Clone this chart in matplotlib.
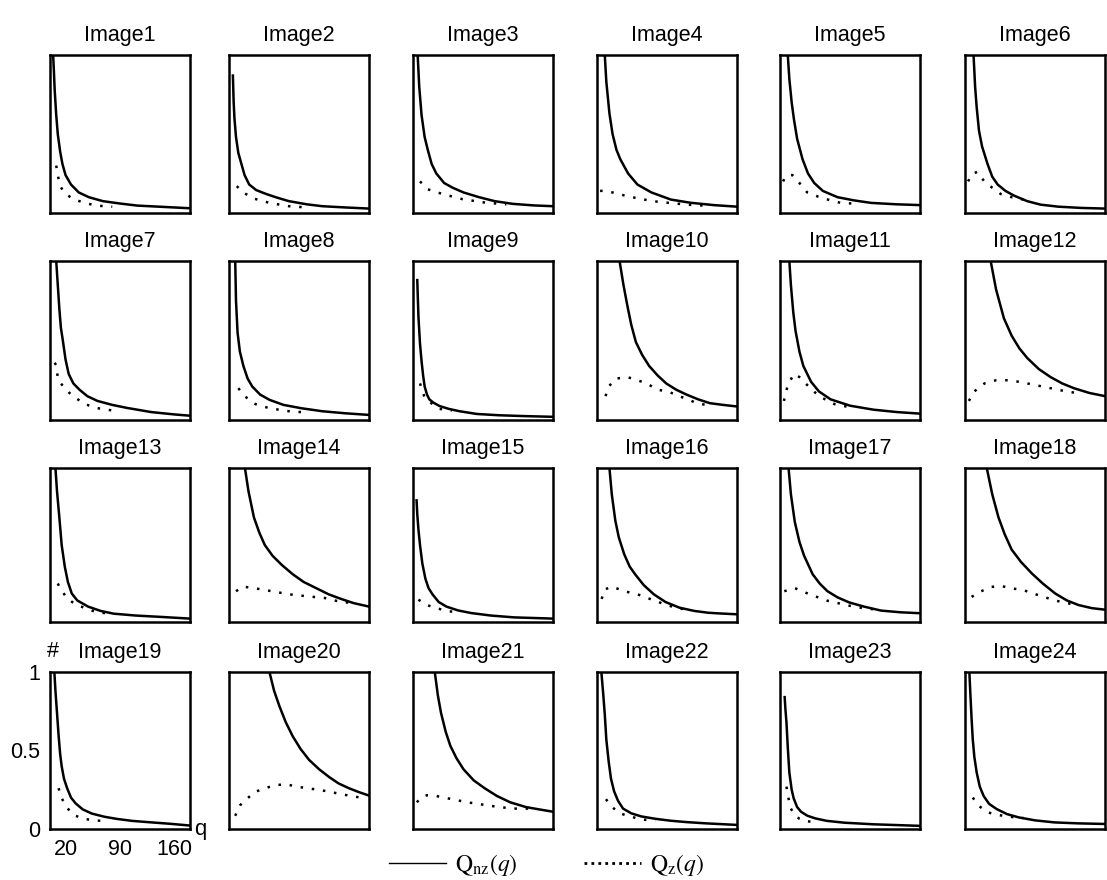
import matplotlib.pyplot as plt
from matplotlib.lines import Line2D

plt.rcParams['font.family'] = ['Liberation Sans', 'DejaVu Sans']
plt.rcParams['mathtext.fontset'] = 'stix'

titles = ['Image%d' % i for i in range(1, 25)]

# Q_nz(q): solid curves, one list per panel
nz_q = [
    [4, 5, 6, 8, 10, 13, 16, 20, 27, 37, 50, 68, 90, 112, 140, 180],
    [5, 6, 7, 9, 12, 16, 20, 26, 35, 48, 60, 77, 100, 120, 150, 180],
    [6, 8, 11, 15, 19, 24, 30, 40, 51, 65, 85, 105, 128, 155, 180],
    [10, 12, 16, 20, 25, 30, 40, 52, 70, 95, 120, 150, 180],
    [10, 12, 15, 18, 22, 29, 36, 44, 55, 74, 95, 117, 150, 180],
    [11, 13, 15, 18, 22, 29, 35, 42, 52, 63, 80, 97, 120, 150, 180],
    [8, 10, 12, 14, 16.5, 20, 24, 30, 38, 48, 61, 80, 99, 130, 160, 180],
    [8, 9, 11, 14, 18.5, 24, 30, 40, 52, 70, 93, 120, 150, 180],
    [5.5, 6, 7, 9, 11, 13, 15, 18, 21, 26, 34, 46, 60, 82, 110, 140, 180],
    [29, 34, 39, 44, 50, 58, 67, 78, 89, 102, 115, 130, 145, 162, 180],
    [12, 14, 17, 20, 25, 30, 40, 50, 65, 90, 120, 150, 180],
    [33, 40, 50, 60, 70, 80, 95, 110, 125, 140, 160, 180],
    [7, 9, 12, 15, 19, 23, 28, 35, 49, 65, 82, 110, 143, 180],
    [20.5, 25, 32, 39, 46, 56, 68, 82, 96, 112, 128, 144, 160, 180],
    [4.6, 5.5, 7, 9, 12, 16, 20, 25, 33, 43, 58, 75, 100, 130, 180],
    [16, 19, 23.5, 28, 35, 42, 49, 60, 73, 88, 106, 125, 143, 160, 180],
    [11, 14, 19, 25, 31, 42, 51, 61, 74, 89, 108, 130, 155, 180],
    [28, 35, 43, 51, 60, 72, 86, 100, 116, 131, 146, 163, 180],
    [5.6, 7, 9, 11, 13, 15, 18, 22, 27, 33, 42, 54, 70, 85, 105, 128, 155, 180],
    [52, 58, 65, 73, 82, 92, 103, 116, 129, 141, 154, 167, 180],
    [28, 32, 36, 42, 48, 56, 65, 78, 92, 108, 125, 145, 162, 180],
    [5.6, 8, 10, 12, 15, 18, 22, 27, 33.5, 44, 57, 75, 94, 115, 140, 180],
    [6, 7, 8.3, 10, 12, 15, 17.6, 22, 27, 35, 45, 60, 83, 120, 150, 180],
    [5.6, 7, 8.5, 10, 12, 15, 19, 24, 31, 40.7, 54, 69, 90, 115, 145, 180],
]
nz_y = [
    [1.0, 0.9, 0.78, 0.62, 0.5, 0.39, 0.31, 0.24, 0.18, 0.13, 0.1, 0.075, 0.06, 0.047, 0.04, 0.03],
    [0.87, 0.7, 0.6, 0.48, 0.38, 0.31, 0.24, 0.18, 0.145, 0.12, 0.1, 0.075, 0.055, 0.043, 0.035, 0.028],
    [1.0, 0.8, 0.62, 0.48, 0.4, 0.31, 0.25, 0.19, 0.16, 0.13, 0.1, 0.075, 0.058, 0.048, 0.043],
    [1.0, 0.83, 0.63, 0.5, 0.4, 0.34, 0.25, 0.18, 0.13, 0.085, 0.065, 0.05, 0.04],
    [1.0, 0.85, 0.7, 0.59, 0.47, 0.34, 0.25, 0.19, 0.14, 0.1, 0.08, 0.064, 0.055, 0.05],
    [1.0, 0.8, 0.67, 0.52, 0.42, 0.31, 0.23, 0.18, 0.14, 0.11, 0.075, 0.053, 0.04, 0.032, 0.028],
    [1.0, 0.85, 0.7, 0.58, 0.5, 0.38, 0.29, 0.23, 0.19, 0.15, 0.12, 0.095, 0.076, 0.05, 0.035, 0.027],
    [1.0, 0.75, 0.55, 0.43, 0.34, 0.26, 0.21, 0.16, 0.127, 0.095, 0.074, 0.055, 0.042, 0.032],
    [0.88, 0.8, 0.65, 0.48, 0.37, 0.28, 0.21, 0.16, 0.13, 0.11, 0.088, 0.07, 0.055, 0.038, 0.03, 0.025, 0.02],
    [1.0, 0.85, 0.72, 0.6, 0.49, 0.41, 0.34, 0.28, 0.23, 0.19, 0.16, 0.13, 0.106, 0.095, 0.085],
    [1.0, 0.85, 0.68, 0.56, 0.43, 0.34, 0.24, 0.18, 0.13, 0.09, 0.065, 0.05, 0.04],
    [1.0, 0.82, 0.64, 0.53, 0.45, 0.39, 0.32, 0.27, 0.23, 0.2, 0.17, 0.15],
    [1.0, 0.85, 0.68, 0.5, 0.36, 0.26, 0.185, 0.14, 0.1, 0.072, 0.054, 0.042, 0.033, 0.022],
    [1.0, 0.85, 0.68, 0.58, 0.5, 0.43, 0.37, 0.31, 0.26, 0.22, 0.18, 0.15, 0.123, 0.1],
    [0.79, 0.7, 0.6, 0.5, 0.38, 0.28, 0.22, 0.18, 0.13, 0.1, 0.075, 0.058, 0.042, 0.03, 0.022],
    [1.0, 0.83, 0.66, 0.55, 0.44, 0.36, 0.31, 0.24, 0.18, 0.13, 0.093, 0.072, 0.06, 0.055, 0.05],
    [1.0, 0.83, 0.65, 0.52, 0.43, 0.31, 0.25, 0.2, 0.16, 0.127, 0.1, 0.074, 0.063, 0.057],
    [1.0, 0.83, 0.68, 0.57, 0.47, 0.39, 0.315, 0.25, 0.185, 0.14, 0.11, 0.09, 0.08],
    [1.0, 0.88, 0.74, 0.6, 0.48, 0.4, 0.32, 0.26, 0.2, 0.163, 0.125, 0.098, 0.078, 0.065, 0.052, 0.043, 0.033, 0.022],
    [1.0, 0.88, 0.78, 0.68, 0.59, 0.51, 0.44, 0.38, 0.33, 0.29, 0.26, 0.235, 0.213],
    [1.0, 0.85, 0.74, 0.62, 0.53, 0.45, 0.38, 0.31, 0.26, 0.21, 0.17, 0.14, 0.125, 0.11],
    [1.0, 0.86, 0.73, 0.57, 0.43, 0.32, 0.24, 0.18, 0.13, 0.1, 0.08, 0.065, 0.053, 0.044, 0.036, 0.026],
    [0.84, 0.76, 0.68, 0.52, 0.36, 0.25, 0.195, 0.14, 0.11, 0.085, 0.068, 0.052, 0.04, 0.03, 0.025, 0.02],
    [1.0, 0.85, 0.7, 0.57, 0.46, 0.36, 0.27, 0.21, 0.16, 0.127, 0.095, 0.074, 0.055, 0.042, 0.036, 0.032],
]

# Q_z(q): dotted curves
z_q = [
    [8, 10, 13, 20, 31, 44, 59, 80],
    [10, 18, 33, 52, 77, 100],
    [9, 19, 38, 64, 94, 120],
    [4, 10, 20, 30, 50, 73, 95, 116, 140],
    [4, 6, 10, 16, 20, 25, 35, 53, 78, 100],
    [4, 6, 10, 16, 20, 25, 35, 46, 60, 75],
    [6, 8.5, 10, 14, 19, 25, 31, 45, 59, 80],
    [12, 20, 34, 52, 80, 100],
    [9, 15, 25, 34, 50],
    [11, 15, 24, 39, 52, 64, 78, 91, 104, 117, 128, 140],
    [5, 10, 18, 25, 35, 50, 70, 90],
    [5, 12, 25, 40, 55, 70, 90, 110, 130, 150],
    [10, 13, 21, 31, 45, 59, 75],
    [9, 18, 32, 55, 77, 100, 123, 144, 160],
    [7, 18, 30, 46, 60],
    [6, 9.5, 19, 35, 52, 68, 87, 101, 115],
    [5.5, 19, 38, 61, 89, 107, 125],
    [8.5, 19, 34, 47, 62, 75, 88, 101, 116, 129, 140],
    [11, 15, 22, 30, 43, 59, 75],
    [8, 14, 22.5, 33, 46, 61, 74, 86, 101, 114, 127, 142, 154, 169],
    [5, 10, 18, 30, 50, 70, 90, 110, 130, 150],
    [11.6, 17, 29, 43, 57, 75],
    [8.3, 10.7, 14, 18.6, 25, 32, 45],
    [10, 17, 29, 43, 57, 75],
]
z_y = [
    [0.3, 0.24, 0.17, 0.12, 0.086, 0.065, 0.047, 0.04],
    [0.17, 0.13, 0.09, 0.064, 0.043, 0.035],
    [0.2, 0.15, 0.12, 0.087, 0.065, 0.055],
    [0.14, 0.14, 0.13, 0.117, 0.095, 0.074, 0.063, 0.053, 0.046],
    [0.2, 0.22, 0.24, 0.24, 0.22, 0.19, 0.13, 0.096, 0.064, 0.058],
    [0.2, 0.22, 0.25, 0.26, 0.23, 0.2, 0.16, 0.12, 0.1, 0.085],
    [0.36, 0.34, 0.26, 0.23, 0.2, 0.17, 0.145, 0.1, 0.076, 0.06],
    [0.2, 0.15, 0.1, 0.074, 0.053, 0.048],
    [0.23, 0.14, 0.1, 0.07, 0.06],
    [0.15, 0.21, 0.26, 0.27, 0.25, 0.23, 0.19, 0.18, 0.153, 0.13, 0.106, 0.095],
    [0.12, 0.22, 0.29, 0.27, 0.22, 0.15, 0.1, 0.08],
    [0.12, 0.18, 0.23, 0.25, 0.25, 0.24, 0.22, 0.2, 0.18, 0.165],
    [0.25, 0.22, 0.16, 0.12, 0.09, 0.065, 0.055],
    [0.2, 0.23, 0.22, 0.2, 0.18, 0.167, 0.156, 0.13, 0.123],
    [0.145, 0.11, 0.09, 0.069, 0.065],
    [0.15, 0.21, 0.23, 0.2, 0.18, 0.15, 0.115, 0.093, 0.08],
    [0.2, 0.22, 0.18, 0.138, 0.106, 0.09, 0.08],
    [0.163, 0.196, 0.228, 0.233, 0.217, 0.207, 0.185, 0.163, 0.14, 0.124, 0.115],
    [0.26, 0.196, 0.135, 0.09, 0.065, 0.054, 0.05],
    [0.084, 0.15, 0.19, 0.235, 0.26, 0.28, 0.285, 0.27, 0.26, 0.25, 0.24, 0.224, 0.213, 0.2],
    [0.17, 0.2, 0.215, 0.21, 0.19, 0.17, 0.155, 0.14, 0.13, 0.13],
    [0.19, 0.15, 0.1, 0.08, 0.06, 0.055],
    [0.27, 0.2, 0.13, 0.09, 0.065, 0.05, 0.045],
    [0.2, 0.15, 0.106, 0.089, 0.078, 0.07],
]

x_ticks = [20, 90, 160]
y_ticks = [0, 0.5, 1]
y_ticklabels = ['0', '0.5', '1']

# panel layout in pixels
W, H = 1107, 880
col_left = [50, 229, 413, 597, 780, 965]
row_top = [55, 261, 468, 672]
row_bot = [213, 420, 622, 829]
box_w = 140

fig = plt.figure(figsize=(W / 100, H / 100), dpi=100)
dots = (0, (1, 3.5))

for i in range(24):
    r, c = divmod(i, 6)
    ax = fig.add_axes([col_left[c] / W, 1 - row_bot[r] / H,
                       box_w / W, (row_bot[r] - row_top[r]) / H])
    ax.plot(nz_q[i], nz_y[i], color='black', lw=1.8)
    ax.plot(z_q[i], z_y[i], color='black', lw=1.8, ls=dots)
    ax.set_xlim(0, 180)
    ax.set_ylim(0, 1)
    for s in ax.spines.values():
        s.set_linewidth(1.8)
    ax.set_title(titles[i], fontsize=15.5, pad=10)
    if i == 18:
        ax.set_xticks(x_ticks)
        ax.set_yticks(y_ticks)
        ax.set_yticklabels(y_ticklabels)
        ax.tick_params(length=0, labelsize=15.5, pad=7)
        ax.text(1.03, 0, 'q', transform=ax.transAxes, fontsize=16, va='center')
        ax.text(-0.02, 1.065, '#', transform=ax.transAxes, fontsize=15.5,
                va='bottom', ha='left')
    else:
        ax.set_xticks([])
        ax.set_yticks([])

handles = [Line2D([], [], color='black', lw=1.0),
           Line2D([], [], color='black', lw=2.0, ls=(0, (1, 1.5)))]
labels = [r'$\mathrm{Q}_{\mathrm{nz}}(q)$', r'$\mathrm{Q}_{\mathrm{z}}(q)$']
fig.legend(handles, labels, loc='center', bbox_to_anchor=(0.494, 0.017),
           ncol=2, frameon=False, fontsize=17, handlelength=2.4,
           handletextpad=0.4, columnspacing=2.8)

fig.savefig('out.png', dpi=100)
